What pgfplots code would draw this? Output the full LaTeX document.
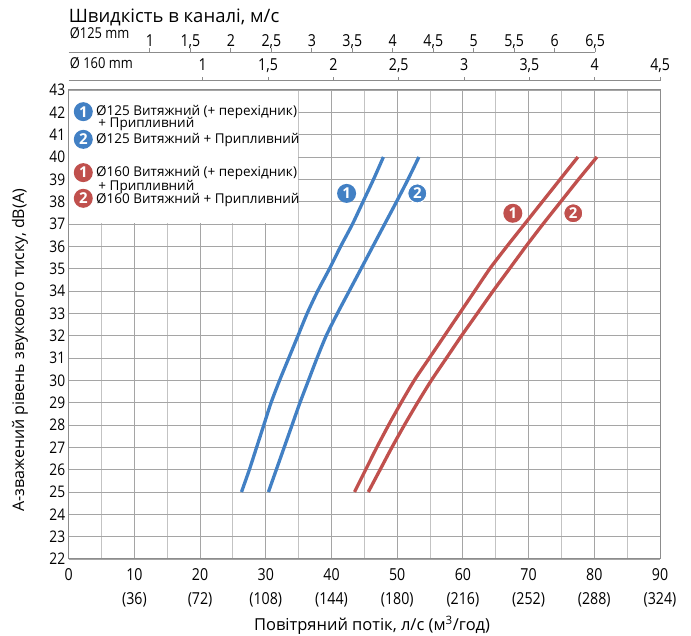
\documentclass[border=0pt]{standalone}
\usepackage{fontspec}
\setmainfont{Open Sans}
\newfontfamily\cond[FakeStretch=0.86]{Open Sans}
\usepackage{pgfplots}
\pgfplotsset{compat=1.18}
\definecolor{cblue}{RGB}{66,128,196}
\definecolor{cred}{RGB}{192,80,77}
\definecolor{gridc}{RGB}{165,165,165}
\definecolor{gridm}{RGB}{195,195,195}
\definecolor{axc}{RGB}{140,140,140}
\tikzset{numc/.style={circle, inner sep=0pt, minimum size=19pt, text=white, font=\bfseries\fontsize{15}{15}\selectfont}}
\begin{document}
\begin{tikzpicture}
\useasboundingbox (-68.7pt,-77pt) rectangle (622.3pt,559pt);
\begin{axis}[
  at={(0,0)}, anchor=south west,
  scale only axis, width=591.3pt, height=469pt,
  xmin=0, xmax=90, ymin=22, ymax=43,
  xtick={0,10,...,90},
  minor xtick={5,15,...,85},
  ytick={22,23,...,43},
  xticklabels={0,{10\\(36)},{20\\(72)},{30\\(108)},{40\\(144)},{50\\(180)},{60\\(216)},{70\\(252)},{80\\(288)},{90\\(324)}},
  xticklabel style={align=center, font=\cond\fontsize{16.5}{24}\selectfont, yshift=-6pt},
  yticklabel style={font=\cond\fontsize{16}{18}\selectfont},
  /pgf/number format/assume math mode=true,
  grid=both,
  major grid style={gridc, line width=0.9pt},
  minor grid style={gridm, line width=0.9pt},
  major tick length=0pt, minor tick length=0pt,
  axis line style={axc, line width=1pt},
  clip=false,
  xlabel={Повітряний потік, л/с (м\textsuperscript{3}/год)},
  ylabel={А-зважений рівень звукового тиску, dB(A)},
  xlabel style={at={(axis description cs:0.513,-0.152)}, anchor=base, font=\fontsize{16.5}{18}\selectfont},
  ylabel style={at={(axis description cs:-0.0824,0.445)}, anchor=center, font=\fontsize{16}{18}\selectfont},
]
% legend background
\fill[white] (axis cs:0.12,37.06) rectangle (axis cs:34.9,42.95);

% Blue 1: O125 exhaust (+ adapter) + supply
\addplot[cblue, line width=3.3pt, smooth, tension=0.4] coordinates {
(26.3,25) (27.5,26) (28.6,27) (29.7,28) (30.8,29) (32.1,30) (33.5,31) (34.9,32)
(36.3,33) (37.9,34) (39.7,35) (41.4,36) (43.2,37) (44.8,38) (46.4,39) (47.9,40)};
% Blue 2: O125 exhaust + supply
\addplot[cblue, line width=3.3pt, smooth, tension=0.4] coordinates {
(30.4,25) (31.6,26) (32.8,27) (34.0,28) (35.2,29) (36.5,30) (37.8,31) (39.2,32)
(40.9,33) (42.7,34) (44.5,35) (46.3,36) (48.1,37) (49.9,38) (51.65,39) (53.3,40)};
% Red 1: O160 exhaust (+ adapter) + supply
\addplot[cred, line width=3.3pt, smooth, tension=0.4] coordinates {
(43.5,25) (45.2,26) (46.9,27) (48.7,28) (50.6,29) (52.6,30) (54.9,31) (57.2,32)
(59.5,33) (61.8,34) (64.1,35) (66.7,36) (69.4,37) (72.1,38) (74.8,39) (77.5,40)};
% Red 2: O160 exhaust + supply
\addplot[cred, line width=3.3pt, smooth, tension=0.4] coordinates {
(45.6,25) (47.4,26) (49.2,27) (51.1,28) (53.1,29) (55.2,30) (57.5,31) (59.8,32)
(62.2,33) (64.6,34) (67.1,35) (69.6,36) (72.2,37) (74.9,38) (77.6,39) (80.4,40)};

% curve markers
\node[numc, fill=cblue] at (axis cs:42.3,38.37) {1};
\node[numc, fill=cblue, draw=white, line width=1pt] at (axis cs:53.06,38.37) {2};
\node[numc, fill=cred] at (axis cs:67.6,37.48) {1};
\node[numc, fill=cred, draw=white, line width=1pt] at (axis cs:76.8,37.48) {2};

% legend
\node[numc, fill=cblue] at (axis cs:2.22,42.03) {1};
\node[numc, fill=cblue] at (axis cs:2.22,40.79) {2};
\node[numc, fill=cred] at (axis cs:2.22,39.30) {1};
\node[numc, fill=cred] at (axis cs:2.22,38.15) {2};
\begin{scope}[every node/.style={anchor=west, inner sep=0pt, font=\fontsize{13.5}{16}\selectfont}]
\node at (axis cs:4.16,42.03) {Ø125 Витяжний (+ перехідник)};
\node at (axis cs:4.5,41.46) {+ Припливний};
\node at (axis cs:4.16,40.76) {Ø125 Витяжний + Припливний};
\node at (axis cs:4.16,39.30) {Ø160 Витяжний (+ перехідник)};
\node at (axis cs:4.5,38.67) {+ Припливний};
\node at (axis cs:4.16,38.07) {Ø160 Витяжний + Припливний};
\end{scope}
\end{axis}

% top velocity scales
\node[anchor=base west, inner sep=0pt, font=\fontsize{18.5}{20}\selectfont] at (0pt,536.3pt) {Швидкість в каналі, м/с};
\node[anchor=base west, inner sep=0pt, font=\cond\fontsize{15}{16}\selectfont] at (1pt,520.7pt) {Ø125 mm};
\node[anchor=base west, inner sep=0pt, font=\cond\fontsize{15}{16}\selectfont] at (1pt,490.7pt) {Ø 160 mm};
\draw[axc, line width=1pt] (0pt,506.7pt) -- (526.6pt,506.7pt);
\foreach \v/\l in {1/1,1.5/{1,5},2/2,2.5/{2,5},3/3,3.5/{3,5},4/4,4.5/{4,5},5/5,5.5/{5,5},6/6,6.5/{6,5}} {
  \pgfmathsetmacro\X{(0.05+12.32*\v)*6.57}
  \draw[axc, line width=1pt] (\X pt,506.7pt) -- ++(0,4pt);
  \node[anchor=base, inner sep=0pt, font=\cond\fontsize{16.5}{18}\selectfont] at (\X pt,512.3pt) {\l};
}
\draw[axc, line width=1pt] (0pt,478pt) -- (591.3pt,478pt);
\foreach \v/\l in {1/1,1.5/{1,5},2/2,2.5/{2,5},3/3,3.5/{3,5},4/4,4.5/{4,5}} {
  \pgfmathsetmacro\X{(0.51+19.89*\v)*6.57}
  \draw[axc, line width=1pt] (\X pt,478pt) -- ++(0,4pt);
  \node[anchor=base, inner sep=0pt, font=\cond\fontsize{16.5}{18}\selectfont] at (\X pt,488pt) {\l};
}
\end{tikzpicture}
\end{document}
